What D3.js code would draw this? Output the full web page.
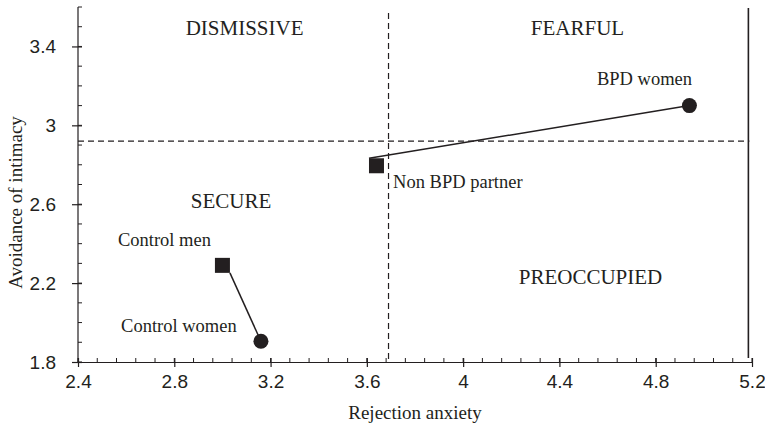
<!DOCTYPE html>
<html><head><meta charset="utf-8">
<script src="https://cdn.jsdelivr.net/npm/d3@7"></script>
<style>body{margin:0;background:#fff}svg{display:block}</style>
</head><body>
<script>
// ---- data ----
const groups = ["Control men", "Control women", "Non BPD partner", "BPD women"];
const rejectionAnxiety = [3.00, 3.16, 3.64, 4.94];
const avoidance = [2.29, 1.905, 2.795, 3.10];
const shapes = ["square", "circle", "square", "circle"];
const pairs = [[0, 1], [2, 3]];
const xTicks = [2.4, 2.8, 3.2, 3.6, 4.0, 4.4, 4.8, 5.2];
const yTicks = [1.8, 2.2, 2.6, 3.0, 3.4];
const xCut = 3.69, yCut = 2.92, rightLine = 5.185;
const quadrants = ["DISMISSIVE", "FEARFUL", "SECURE", "PREOCCUPIED"];
const quadX = [3.092, 4.475, 3.036, 4.529];
const quadY = [3.458, 3.458, 2.581, 2.196];
const labelX = [2.566, 2.579, 3.709, 4.556];
const labelY = [2.388, 1.952, 2.682, 3.205];

const W = 765, H = 429;
const ink = "#231f20";
const svg = d3.select("body").append("svg").attr("width", W).attr("height", H);
const x = d3.scaleLinear().domain([2.4, 5.2]).range([78, 752]);
const y = d3.scaleLinear().domain([1.8, 3.6]).range([362, 7]);
const fmt = d => (d === 4 || d === 3) ? String(d) : d.toFixed(1);

// minor ticks (inside)
const xMinor = d3.range(0, 36).map(i => 2.4 + i * 0.08);
const yMinor = d3.range(0, 19).map(i => 1.8 + i * 0.1);
svg.append("g").selectAll("line").data(xMinor).join("line")
  .attr("x1", d => x(d)).attr("x2", d => x(d)).attr("y1", y(1.8)).attr("y2", y(1.8) - 4)
  .attr("stroke", ink).attr("stroke-width", 1);
svg.append("g").selectAll("line").data(yMinor).join("line")
  .attr("y1", d => y(d)).attr("y2", d => y(d)).attr("x1", x(2.4)).attr("x2", x(2.4) + 4)
  .attr("stroke", ink).attr("stroke-width", 1);

// axes
const xAxis = svg.append("g").attr("transform", `translate(0,${y(1.8)})`)
  .call(d3.axisBottom(x).tickValues(xTicks).tickFormat(fmt).tickSize(5).tickSizeOuter(0));
const yAxis = svg.append("g").attr("transform", `translate(${x(2.4)},0)`)
  .call(d3.axisLeft(y).tickValues(yTicks).tickFormat(fmt).tickSize(6).tickSizeOuter(0));
[xAxis, yAxis].forEach(g => {
  g.select(".domain").attr("stroke", ink).attr("stroke-width", 1.2);
  g.selectAll(".tick line").attr("stroke", ink).attr("stroke-width", 1.2);
  g.selectAll("text").attr("fill", ink).style("font-family", "Liberation Sans, Arial, sans-serif").style("font-size", "19px");
});
xAxis.selectAll(".tick line").attr("y1", -4).attr("y2", 5);
xAxis.selectAll(".tick text").attr("y", 13);
yAxis.selectAll(".tick line").attr("x1", 4).attr("x2", -6);
yAxis.selectAll(".tick text").attr("x", -22);
yAxis.select(".domain").attr("d", `M0,${y(3.6)}V${y(1.8)}`);

// reference lines
svg.append("line").attr("x1", x(2.4)).attr("x2", x(rightLine) + 1).attr("y1", y(yCut)).attr("y2", y(yCut))
  .attr("stroke", ink).attr("stroke-width", 1.2).attr("stroke-dasharray", "6,4");
svg.append("line").attr("x1", x(xCut)).attr("x2", x(xCut)).attr("y1", y(3.57)).attr("y2", y(1.8))
  .attr("stroke", ink).attr("stroke-width", 1.2).attr("stroke-dasharray", "6,4");
svg.append("line").attr("x1", x(rightLine)).attr("x2", x(rightLine)).attr("y1", y(3.595)).attr("y2", y(1.82))
  .attr("stroke", ink).attr("stroke-width", 1.6);

// connecting lines
const half = 7.5;
pairs.forEach(([a, b]) => {
  const ax = x(rejectionAnxiety[a]), ay = y(avoidance[a]);
  const bx = x(rejectionAnxiety[b]), by = y(avoidance[b]);
  const sx = ax + (by < ay ? -half : half);
  const sy = ay + (by < ay ? -half : half);
  svg.append("line").attr("x1", sx).attr("y1", sy).attr("x2", bx).attr("y2", by)
    .attr("stroke", ink).attr("stroke-width", 1.5);
});

// markers
groups.forEach((g, i) => {
  const cx = x(rejectionAnxiety[i]), cy = y(avoidance[i]);
  if (shapes[i] === "square") {
    svg.append("rect").attr("x", cx - half).attr("y", cy - half).attr("width", 2 * half).attr("height", 2 * half).attr("fill", ink);
  } else {
    svg.append("circle").attr("cx", cx).attr("cy", cy).attr("r", 7.5).attr("fill", ink);
  }
});

// point labels
const serif = "Liberation Serif, Times New Roman, serif";
groups.forEach((g, i) => {
  svg.append("text").attr("x", x(labelX[i])).attr("y", y(labelY[i])).text(g)
    .attr("fill", ink).style("font-family", serif).style("font-size", "18.5px");
});

// quadrant labels
quadrants.forEach((q, i) => {
  svg.append("text").attr("x", x(quadX[i])).attr("y", y(quadY[i])).attr("text-anchor", "middle").text(q)
    .attr("fill", ink).style("font-family", serif).style("font-size", "21px");
});

// axis titles
svg.append("text").attr("x", (x(2.4) + x(5.2)) / 2).attr("y", 419).attr("text-anchor", "middle")
  .text("Rejection anxiety").attr("fill", ink).style("font-family", serif).style("font-size", "19px");
svg.append("text").attr("transform", `translate(22,${(y(1.8) + y(3.6)) / 2 + 18}) rotate(-90)`).attr("text-anchor", "middle")
  .text("Avoidance of intimacy").attr("fill", ink).style("font-family", serif).style("font-size", "19px");
</script>
</body></html>
